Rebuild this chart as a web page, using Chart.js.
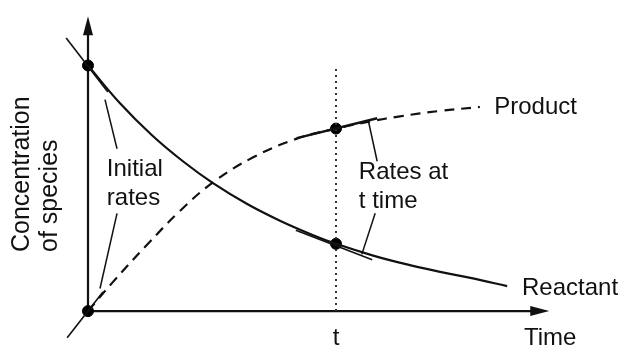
<!DOCTYPE html>
<html>
<head>
<meta charset="utf-8">
<script src="https://cdn.jsdelivr.net/npm/chart.js@4/dist/chart.umd.min.js"></script>
<style>
  html, body { margin: 0; padding: 0; background: #fff; }
  #wrap { width: 624px; height: 352px; }
</style>
</head>
<body>
<div id="wrap"><canvas id="rateChart" width="624" height="352"></canvas></div>
<script>
// curves (time units, concentration units)
const reactantX = [0, 0.65, 1.29, 1.92, 2.52, 3.21, 3.87, 4.54, 5.0, 5.75, 6.43, 7.10, 7.76, 8.45];
const reactantY = [10.0, 8.45, 7.16, 6.09, 5.21, 4.36, 3.68, 3.09, 2.74, 2.26, 1.90, 1.60, 1.33, 1.02];
const productX = [0, 0.50, 1.19, 1.85, 2.52, 3.33, 4.21, 5.0, 5.69, 6.29, 7.10, 7.90];
const productY = [0, 1.18, 2.70, 4.07, 5.24, 6.26, 7.02, 7.43, 7.72, 7.93, 8.15, 8.31];

// tangent lines (rates)
const tangentInitReactant = { x: [-0.44, 0.40], y: [11.12, 8.92] };
const tangentInitProduct = { x: [-0.42, 0.30], y: [-1.08, 0.78] };
const tangentTProduct = { x: [4.21, 5.83], y: [7.04, 7.85] };
const tangentTReactant = { x: [4.19, 5.73], y: [3.29, 2.09] };

// leader lines from labels to tangents
const leaderInitUpper = { x: [0.585, 0.343], y: [6.61, 8.61] };
const leaderInitLower = { x: [0.585, 0.242], y: [3.98, 0.92] };
const leaderTUpper = { x: [5.83, 5.65], y: [6.10, 7.77] };
const leaderTLower = { x: [5.79, 5.52], y: [3.98, 2.31] };

const timeT = 5;
const markerX = [0, 0, 5, 5];
const markerY = [10, 0, 7.43, 2.74];
const dottedTop = 9.88;
const axisEndX = 9.3;
const axisEndY = 12.0;

// text labels
const labels = [
    { text: 'Product', x: 8.19, y: 8.01, align: 'left' },
    { text: 'Reactant', x: 8.75, y: 0.64, align: 'left' },
    { text: 'Time', x: 8.79, y: -1.39, align: 'left' },
    { text: 't', x: 5.0, y: -1.39, align: 'center' },
    { text: 'Initial', x: 0.38, y: 5.50, align: 'left' },
    { text: 'rates', x: 0.38, y: 4.30, align: 'left' },
    { text: 'Rates at', x: 5.46, y: 5.38, align: 'left' },
    { text: 't time', x: 5.46, y: 4.18, align: 'left' }
];
const yTitle = ['Concentration', 'of species'];

function pts(xs, ys) {
    return xs.map((x, i) => ({ x: x, y: ys[i] }));
}

function thinLine(seg, width) {
    return {
        data: pts(seg.x, seg.y),
        borderColor: '#111',
        borderWidth: width,
        pointRadius: 0,
        showLine: true,
        fill: false
    };
}

const decorations = {
    id: 'decorations',
    beforeDatasetsDraw(chart) {
        const c = chart.ctx;
        const xs = chart.scales.x, ys = chart.scales.y;
        const ox = xs.getPixelForValue(0), oy = ys.getPixelForValue(0);
        const ex = xs.getPixelForValue(axisEndX), ey = ys.getPixelForValue(axisEndY);
        c.save();
        c.strokeStyle = '#111';
        c.fillStyle = '#111';
        c.lineWidth = 2.2;
        c.beginPath();
        c.moveTo(ox, oy);
        c.lineTo(ox, ey + 14);
        c.moveTo(ox, oy);
        c.lineTo(ex - 14, oy);
        c.stroke();
        // arrow heads
        c.beginPath();
        c.moveTo(ox, ey);
        c.lineTo(ox - 5, ey + 19);
        c.lineTo(ox + 5, ey + 19);
        c.closePath();
        c.fill();
        c.beginPath();
        c.moveTo(ex, oy);
        c.lineTo(ex - 19, oy - 5);
        c.lineTo(ex - 19, oy + 5);
        c.closePath();
        c.fill();
        c.restore();
    },
    afterDraw(chart) {
        const c = chart.ctx;
        const xs = chart.scales.x, ys = chart.scales.y;
        c.save();
        c.fillStyle = '#111';
        c.font = '24px "Liberation Sans", Arial, sans-serif';
        c.textBaseline = 'alphabetic';
        labels.forEach(l => {
            c.textAlign = l.align;
            c.fillText(l.text, xs.getPixelForValue(l.x), ys.getPixelForValue(l.y));
        });
        // rotated axis title
        c.font = '25px "Liberation Sans", Arial, sans-serif';
        c.textAlign = 'left';
        const base = [29, 57];
        yTitle.forEach((t, i) => {
            c.save();
            c.translate(base[i], 252);
            c.rotate(-Math.PI / 2);
            c.fillText(t, 0, 0);
            c.restore();
        });
        c.restore();
    }
};

const ctx = document.getElementById('rateChart').getContext('2d');

new Chart(ctx, {
    type: 'scatter',
    data: {
        datasets: [
            {
                label: 'Reactant',
                data: pts(reactantX, reactantY),
                borderColor: '#111',
                borderWidth: 2.2,
                pointRadius: 0,
                showLine: true,
                tension: 0.4,
                fill: false
            },
            {
                label: 'Product',
                data: pts(productX, productY),
                borderColor: '#111',
                borderWidth: 2.2,
                borderDash: [10, 7],
                pointRadius: 0,
                showLine: true,
                tension: 0.4,
                fill: false
            },
            thinLine(tangentInitReactant, 1.6),
            thinLine(tangentInitProduct, 1.6),
            thinLine(tangentTProduct, 2.4),
            thinLine(tangentTReactant, 1.6),
            thinLine(leaderInitUpper, 1.5),
            thinLine(leaderInitLower, 1.5),
            thinLine(leaderTUpper, 1.5),
            thinLine(leaderTLower, 1.5),
            {
                data: pts([timeT, timeT], [0, dottedTop]),
                borderColor: '#333',
                borderWidth: 2,
                borderDash: [2, 4],
                pointRadius: 0,
                showLine: true
            },
            {
                data: pts(markerX, markerY),
                backgroundColor: '#000',
                borderColor: '#000',
                pointRadius: 5.5,
                showLine: false
            }
        ]
    },
    options: {
        responsive: false,
        animation: false,
        layout: { padding: { left: 63.2, right: 15.2, top: 1.76, bottom: 3.86 } },
        plugins: {
            legend: { display: false },
            tooltip: { enabled: false }
        },
        scales: {
            x: { type: 'linear', min: -0.5, max: 10.5, display: false },
            y: { type: 'linear', min: -1.4, max: 12.4, display: false }
        }
    },
    plugins: [decorations]
});
</script>
</body>
</html>
